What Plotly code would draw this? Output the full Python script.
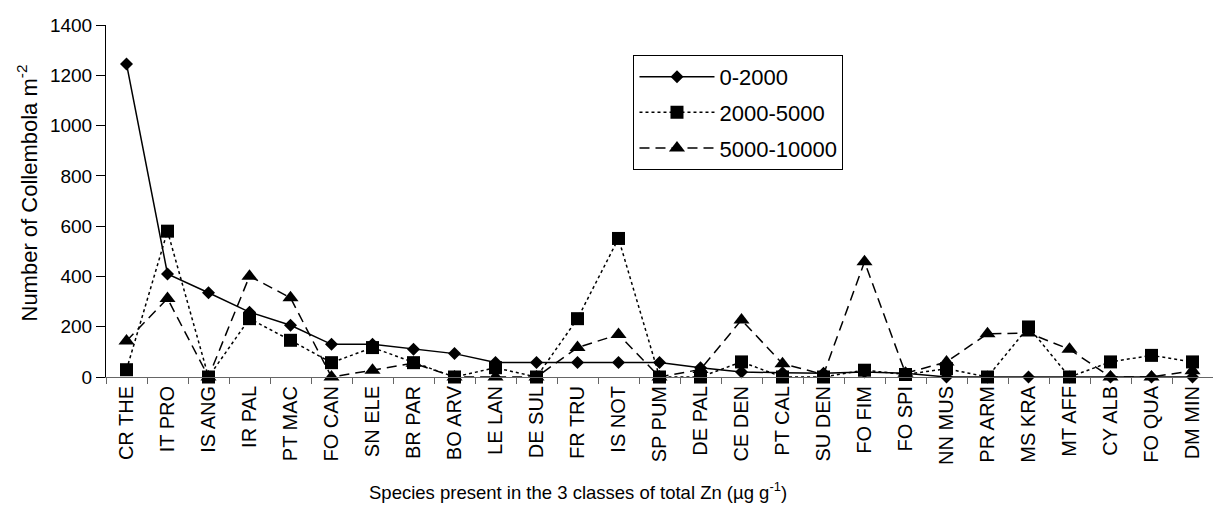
import plotly.graph_objects as go

species = ["CR THE", "IT PRO", "IS ANG", "IR PAL", "PT MAC", "FO CAN", "SN ELE", "BR PAR",
           "BO ARV", "LE LAN", "DE SUL", "FR TRU", "IS NOT", "SP PUM", "DE PAL", "CE DEN",
           "PT CAL", "SU DEN", "FO FIM", "FO SPI", "NN MUS", "PR ARM", "MS KRA", "MT AFF",
           "CY ALB", "FO QUA", "DM MIN"]

zn_0_2000 = [1245, 410, 335, 258, 206, 130, 130, 110, 93, 58, 58, 58, 58, 58, 37, 20,
             17, 15, 20, 15, 0, 0, 0, 0, 0, 0, 0]
zn_2000_5000 = [29, 580, 0, 232, 146, 57, 117, 57, 0, 37, 0, 232, 551, 0, 0, 60,
                0, 0, 27, 10, 33, 0, 199, 0, 60, 86, 60]
zn_5000_10000 = [143, 312, 0, 401, 315, 0, 27, 55, 0, 0, 0, 117, 169, 0, 30, 227,
                 53, 10, 458, 15, 60, 172, 175, 110, 0, 0, 25]

y_ticks = [0, 200, 400, 600, 800, 1000, 1200, 1400]

FONT = "Liberation Sans, Arial, sans-serif"

fig = go.Figure()
fig.add_trace(go.Scatter(x=species, y=zn_0_2000, name="0-2000", mode="lines+markers",
                         legendgroup="a",
                         line=dict(color="black", width=1.5, dash="solid"),
                         marker=dict(symbol="diamond", size=10, color="black"),
                         cliponaxis=False))
fig.add_trace(go.Scatter(x=species, y=zn_2000_5000, name="2000-5000", mode="lines+markers",
                         legendgroup="b",
                         line=dict(color="black", width=1.5, dash="dot"),
                         marker=dict(symbol="square", size=13, color="black"),
                         cliponaxis=False))
fig.add_trace(go.Scatter(x=species, y=zn_5000_10000, name="5000-10000", mode="lines+markers",
                         legendgroup="c",
                         line=dict(color="black", width=1.5, dash="10px,6px"),
                         marker=dict(symbol="triangle-up", size=14, color="black"),
                         cliponaxis=False))

fig.update_layout(
    width=1213, height=506,
    margin=dict(l=106, r=0, t=25, b=129),
    paper_bgcolor="white", plot_bgcolor="white",
    font=dict(family=FONT, color="black", size=19),
    showlegend=True,
    legend=dict(x=0.4765, y=0.915, xanchor="left", yanchor="top",
                bordercolor="black", borderwidth=1, bgcolor="white",
                font=dict(size=22, family=FONT), itemwidth=75,
                tracegroupgap=4, traceorder="grouped"),
    xaxis=dict(type="category", range=[-0.5, 26.5], tickangle=-90,
               showline=True, linecolor="#666", linewidth=1,
               ticks="outside", tickson="boundaries", ticklen=6, tickcolor="#666",
               showgrid=False, zeroline=False,
               tickfont=dict(size=20, family=FONT)),
    yaxis=dict(range=[0, 1400], tickvals=y_ticks, showline=True, linecolor="black",
               linewidth=1, ticks="outside", ticklen=9, tickcolor="black",
               showgrid=False, zeroline=False, tickfont=dict(size=19, family=FONT)),
    annotations=[
        dict(text="Species present in the 3 classes of total Zn (µg g<sup>-1</sup>)",
             xref="paper", yref="paper", x=0.426, y=-0.324, xanchor="center", yanchor="middle",
             showarrow=False, font=dict(size=18.5, family=FONT)),
        dict(text="Number of Collembola m<sup>-2</sup>", textangle=-90,
             xref="paper", yref="paper", x=-0.0714, y=0.524, xanchor="center", yanchor="middle",
             showarrow=False, font=dict(size=22, family=FONT)),
    ],
)

fig.write_html("out.html")
